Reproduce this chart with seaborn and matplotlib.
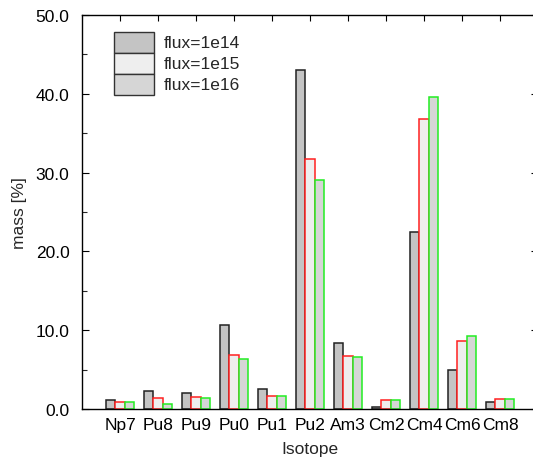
import matplotlib
matplotlib.use("Agg")
import matplotlib.pyplot as plt
import matplotlib.ticker as mticker
from matplotlib.patches import Rectangle
import pandas as pd
import seaborn as sns

# Isotope mass fractions [%] for three neutron flux levels
isotopes = ["Np7", "Pu8", "Pu9", "Pu0", "Pu1", "Pu2", "Am3", "Cm2", "Cm4", "Cm6", "Cm8"]
flux_1e14 = [1.1, 2.3, 2.0, 10.6, 2.6, 43.0, 8.4, 0.2, 22.4, 5.0, 0.9]
flux_1e15 = [0.9, 1.35, 1.5, 6.8, 1.7, 31.7, 6.7, 1.1, 36.8, 8.6, 1.3]
flux_1e16 = [0.9, 0.6, 1.35, 6.3, 1.6, 29.0, 6.55, 1.1, 39.6, 9.3, 1.3]
series_labels = ["flux=1e14", "flux=1e15", "flux=1e16"]

fills = ["#c4c4c4", "#eeeeee", "#d6d6d6"]
edges = ["#222222", "#ff2020", "#22ee22"]

df = pd.DataFrame({
    "Isotope": isotopes * 3,
    "mass": flux_1e14 + flux_1e15 + flux_1e16,
    "flux": [series_labels[0]] * len(isotopes)
            + [series_labels[1]] * len(isotopes)
            + [series_labels[2]] * len(isotopes),
})

FS = 12.5

sns.set_style("white")
plt.rcParams["font.family"] = ["Liberation Sans", "DejaVu Sans"]
plt.rcParams["font.size"] = FS

fig = plt.figure(figsize=(5.33, 4.6), dpi=100)
ax = fig.add_axes([82 / 533, 50 / 460, 456 / 533, 394 / 460])

sns.barplot(
    data=df, x="Isotope", y="mass", hue="flux",
    order=isotopes, hue_order=series_labels,
    palette=dict(zip(series_labels, fills)), saturation=1,
    width=0.75, legend=False, ax=ax,
)
for container, ec in zip(ax.containers, edges):
    for bar in container:
        bar.set_edgecolor(ec)
        bar.set_linewidth(1.1)

ax.set_xlim(-1, 11)
ax.set_ylim(0, 50)
ax.set_axisbelow(True)

for side in ["left", "top", "bottom"]:
    ax.spines[side].set_visible(True)
    ax.spines[side].set_color("black")
    ax.spines[side].set_linewidth(1.0)
ax.spines["right"].set_visible(False)

ax.yaxis.set_major_locator(mticker.MultipleLocator(10))
ax.yaxis.set_minor_locator(mticker.MultipleLocator(5))
ax.yaxis.set_major_formatter(mticker.FormatStrFormatter("%.1f"))
ax.tick_params(axis="y", which="major", direction="in", length=5, width=0.8,
               left=True, right=True, labelsize=FS, pad=9, colors="black")
ax.tick_params(axis="y", which="minor", direction="in", length=3.5, width=0.8,
               left=True, right=True)
ax.tick_params(axis="x", which="major", direction="in", length=4, width=0.8,
               bottom=True, top=True, labelsize=FS, pad=6, colors="black")

ax.set_xlabel("Isotope", fontsize=FS, labelpad=6)
ax.set_ylabel("mass [%]", fontsize=FS, labelpad=6)

# Key: stacked swatches with labels, in axes fraction coordinates
key_x0, key_x1 = 32 / 456, 72 / 456
key_top, row_h = 1 - 17 / 394, 21 / 394
text_x = 82 / 456
for i, (label, fc) in enumerate(zip(series_labels, fills)):
    y_top = key_top - i * row_h
    ax.add_patch(Rectangle((key_x0, y_top - row_h), key_x1 - key_x0, row_h,
                           transform=ax.transAxes, facecolor=fc,
                           edgecolor="#333333", linewidth=1.0, zorder=5))
    ax.text(text_x, y_top - row_h / 2, label, transform=ax.transAxes,
            ha="left", va="center", fontsize=FS, zorder=5)

fig.savefig("out.png", dpi=100)
